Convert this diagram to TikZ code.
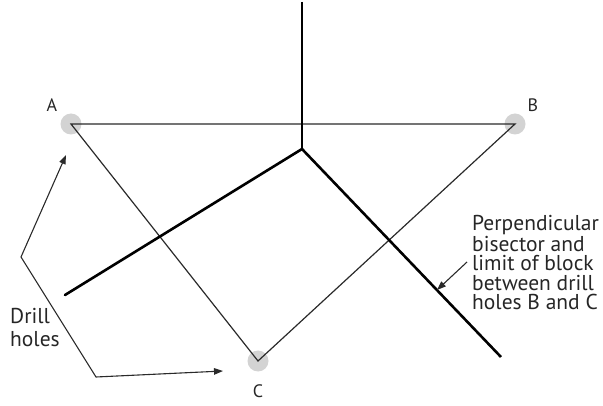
\documentclass[tikz,border=0pt]{standalone}
\usepackage{fontspec}
\setmainfont{PT Sans}
\usetikzlibrary{arrows.meta}
\definecolor{holegray}{HTML}{D3D3D3}
\definecolor{linegray}{HTML}{2A2A2A}
\begin{document}
\begin{tikzpicture}[x=1pt,y=-1pt,
  hole/.style={circle,fill=holegray,minimum size=21pt,inner sep=0pt},
  thin line/.style={draw=linegray,line width=1.2pt},
  thick line/.style={draw=black,line width=2.6pt},
  pointer/.style={draw=linegray,line width=1.1pt,-{Triangle[length=9pt,width=6.5pt]}},
  lbl/.style={font=\fontsize{21.5}{19.4}\selectfont,text=black!85,inner sep=0pt},
  ptlbl/.style={font=\fontsize{18}{20}\selectfont,text=black!85,inner sep=0pt}]
\useasboundingbox (0,0) rectangle (603,406);
\node[hole] (A) at (71,124) {};
\node[hole] (B) at (515,124) {};
\node[hole] (C) at (258,361) {};
\node[ptlbl] (la) at (52,105) {A};
\node[ptlbl] (lb) at (533,105) {B};
\node[ptlbl] (lc) at (258,391) {C};
% triangle
\draw[thin line] (A.center) -- (B.center) -- (C.center) -- cycle;
% bisectors
\coordinate (O) at (302,149);
\coordinate (top) at (302,2);
\coordinate (L) at (65,295);
\coordinate (R) at (501,357);
\draw[thick line] (top) -- (O);
\draw[thick line,line cap=round] (O) -- (L);
\draw[thick line] (O) -- (R);
% right label (base anchor = baseline of last line)
\node[lbl,align=left,anchor=base west] (txt) at (472,309.5)
  {Perpendicular\\bisector and\\limit of block\\between drill\\holes B and C};
\coordinate (ps) at (467,262);
\coordinate (pe) at (437,290);
\draw[pointer] (ps) -- (pe);
% drill holes
\node[lbl,align=left,anchor=base west,font=\fontsize{21.5}{22.5}\selectfont] (dh) at (10,346) {Drill\\holes};
\coordinate (ta) at (66,155);
\coordinate (k1) at (21,257);
\coordinate (k2) at (96,377);
\coordinate (tc) at (223,371);
\draw[pointer,{Triangle[length=9pt,width=6.5pt]}-{Triangle[length=9pt,width=6.5pt]}] (ta) -- (k1) -- (k2) -- (tc);
\end{tikzpicture}
\end{document}
